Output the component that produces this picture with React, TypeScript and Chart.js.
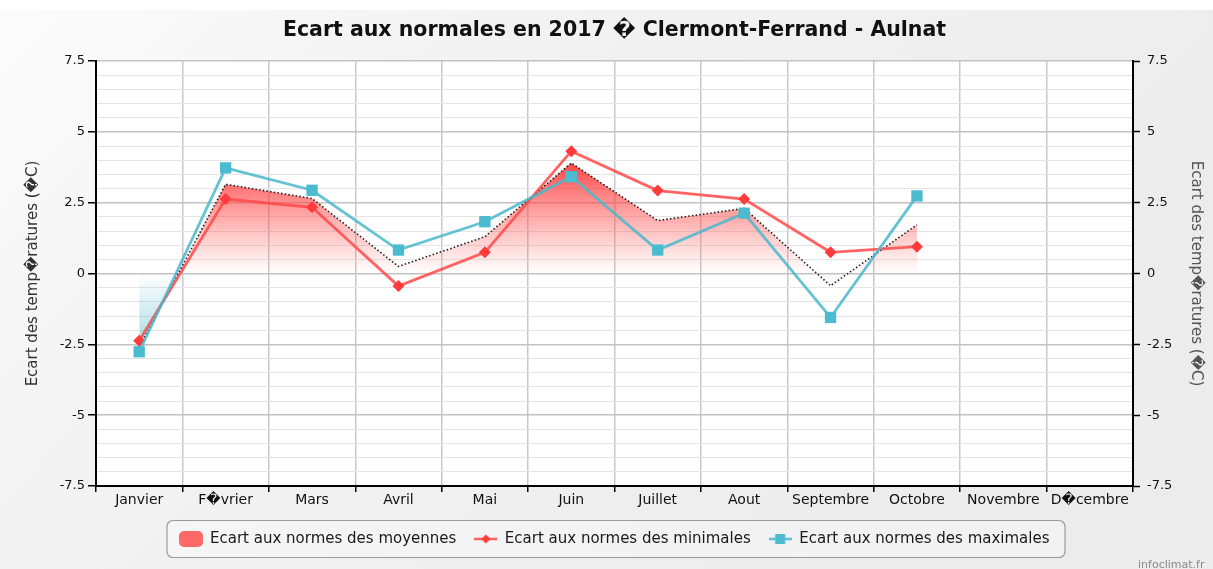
import React, { useEffect, useRef } from "react";
import { Chart, registerables } from "chart.js";

Chart.register(...registerables);

const months = [
  "Janvier", "F\uFFFDvrier", "Mars", "Avril", "Mai", "Juin",
  "Juillet", "Aout", "Septembre", "Octobre", "Novembre", "D\uFFFDcembre",
];
const meanDev = [-2.6, 3.15, 2.65, 0.25, 1.3, 3.9, 1.87, 2.3, -0.43, 1.72];
const minDev = [-2.37, 2.63, 2.34, -0.44, 0.75, 4.32, 2.93, 2.63, 0.75, 0.95];
const maxDev = [-2.76, 3.73, 2.94, 0.83, 1.83, 3.42, 0.83, 2.13, -1.55, 2.74];
const seriesNames = [
  "Ecart aux normes des moyennes",
  "Ecart aux normes des minimales",
  "Ecart aux normes des maximales",
];
const chartTitle = "Ecart aux normales en 2017 \uFFFD Clermont-Ferrand - Aulnat";
const axisTitle = "Ecart des temp\uFFFDratures (\uFFFDC)";
const creditText = "infoclimat.fr";

const FONT = "'DejaVu Sans', 'Noto Sans', sans-serif";
const RED_LINE = "rgba(255,72,72,0.85)";
const RED_PT = "#ff3b3b";
const BLUE_LINE = "rgba(72,184,204,0.85)";
const BLUE_PT = "#4bbccf";

function makeIcon(kind: string): HTMLCanvasElement {
  const c = document.createElement("canvas");
  if (kind === "area") {
    c.width = 24; c.height = 16;
    const x = c.getContext("2d")!;
    x.fillStyle = "#ff6868";
    x.beginPath();
    (x as any).roundRect(0, 0, 24, 16, 5);
    x.fill();
    return c;
  }
  c.width = 23; c.height = 14;
  const x = c.getContext("2d")!;
  x.strokeStyle = kind === "min" ? RED_LINE : BLUE_LINE;
  x.lineWidth = 2.5;
  x.beginPath(); x.moveTo(0, 7); x.lineTo(23, 7); x.stroke();
  x.fillStyle = kind === "min" ? RED_PT : BLUE_PT;
  x.beginPath();
  if (kind === "min") {
    x.moveTo(11.5, 2.5); x.lineTo(16, 7); x.lineTo(11.5, 11.5); x.lineTo(7, 7); x.closePath();
  } else {
    x.rect(6.5, 2, 10, 10);
  }
  x.fill();
  return c;
}

const isMajor = (v: number) => Math.abs(v / 2.5 - Math.round(v / 2.5)) < 1e-6;

export default function App() {
  const ref = useRef<HTMLCanvasElement | null>(null);
  useEffect(() => {
    if (!ref.current) return;
    const icons = [makeIcon("area"), makeIcon("min"), makeIcon("max")];

    const bgPlugin = {
      id: "bgPlugin",
      beforeDraw(chart: any) {
        const { ctx, width, height, chartArea } = chart;
        ctx.save();
        ctx.fillStyle = "#ffffff";
        ctx.fillRect(0, 0, width, height);
        const g = ctx.createLinearGradient(0, 0, width * 0.6, height * 1.2);
        g.addColorStop(0, "#fcfcfc");
        g.addColorStop(0.35, "#f3f3f3");
        g.addColorStop(1, "#ececec");
        ctx.fillStyle = g;
        ctx.fillRect(0, 10, width, height - 10);
        ctx.fillStyle = "#ffffff";
        ctx.fillRect(chartArea.left, chartArea.top, chartArea.right - chartArea.left, chartArea.bottom - chartArea.top);
        const lg = chart.legend;
        if (lg && lg.legendHitBoxes && lg.legendHitBoxes.length) {
          const hb = lg.legendHitBoxes;
          const first = hb[0];
          const last = hb[hb.length - 1];
          const cy = first.top + first.height / 2;
          const l = first.left - 13;
          const r = last.left + last.width + 15;
          ctx.strokeStyle = "#9a9a9a";
          ctx.lineWidth = 1.2;
          ctx.fillStyle = "rgba(255,255,255,0.3)";
          ctx.beginPath();
          ctx.roundRect(l + 0.5, cy - 18.5, r - l, 37, 6);
          ctx.fill();
          ctx.stroke();
        }
        ctx.restore();
      },
      afterDraw(chart: any) {
        const { ctx, width } = chart;
        ctx.save();
        ctx.font = `11px ${FONT}`;
        ctx.fillStyle = "#8a8a8a";
        ctx.textBaseline = "top";
        ctx.textAlign = "left";
        ctx.fillText(creditText, width - 75, 560);
        ctx.restore();
      },
    };

    const chart = new Chart(ref.current, {
      type: "line",
      data: {
        labels: months,
        datasets: [
          {
            label: seriesNames[0],
            data: meanDev,
            borderColor: "#1e1e1e",
            borderWidth: 1.6,
            borderDash: [1.5, 2.2],
            pointRadius: 0,
            pointHoverRadius: 0,
            fill: "origin",
            backgroundColor: (c: any) => {
              const ch = c.chart;
              const sc = ch.scales && ch.scales.y;
              if (!ch.chartArea || !sc) return "rgba(255,80,80,0.4)";
              const y0 = sc.getPixelForValue(4.0);
              const y1 = sc.getPixelForValue(-2.8);
              const yz = sc.getPixelForValue(0);
              const z = (yz - y0) / (y1 - y0);
              const g = ch.ctx.createLinearGradient(0, y0, 0, y1);
              g.addColorStop(0, "rgba(255,50,50,0.92)");
              g.addColorStop(z, "rgba(255,90,90,0.0)");
              g.addColorStop(Math.min(1, z + 0.0001), "rgba(80,185,205,0.0)");
              g.addColorStop(1, "rgba(80,185,205,0.55)");
              return g;
            },
            tension: 0,
            order: 3,
          },
          {
            label: seriesNames[1],
            data: minDev,
            borderColor: RED_LINE,
            borderWidth: 2.8,
            pointStyle: "rectRot",
            pointRadius: 6,
            pointBackgroundColor: RED_PT,
            pointBorderWidth: 0,
            fill: false,
            tension: 0,
            order: 2,
          },
          {
            label: seriesNames[2],
            data: maxDev,
            borderColor: BLUE_LINE,
            borderWidth: 2.8,
            pointStyle: "rect",
            pointRadius: 8,
            pointBackgroundColor: BLUE_PT,
            pointBorderWidth: 0,
            fill: false,
            tension: 0,
            order: 1,
          },
        ],
      },
      options: {
        responsive: false,
        animation: false,
        events: [],
        layout: { padding: { top: 0, bottom: 12.5, left: 16, right: 0 } },
        plugins: {
          title: {
            display: true,
            text: chartTitle,
            color: "#111111",
            font: { family: FONT, size: 20.5, weight: "bold" },
            padding: { top: 18, bottom: 18.5 },
          },
          legend: {
            position: "bottom",
            labels: {
              usePointStyle: true,
              pointStyleWidth: 23,
              padding: 18,
              color: "#1a1a1a",
              font: { family: FONT, size: 15 },
              generateLabels: (ch: any) =>
                ch.data.datasets.map((ds: any, i: number) => ({
                  text: ds.label,
                  pointStyle: icons[i],
                  fillStyle: "transparent",
                  strokeStyle: "transparent",
                  lineWidth: 0,
                  hidden: false,
                  datasetIndex: i,
                  fontColor: "#1a1a1a",
                })),
            },
          },
          tooltip: { enabled: false },
        },
        scales: {
          x: {
            type: "category",
            offset: true,
            grid: {
              offset: true,
              color: "#c8c8c8",
              lineWidth: 1.5,
              tickLength: 6,
              tickColor: "#000000",
              tickWidth: 1.5,
            },
            border: { color: "#000000", width: 2 },
            ticks: {
              color: "#111111",
              font: { family: FONT, size: 14 },
              maxRotation: 0,
              autoSkip: false,
              padding: 0,
            },
            afterFit: (s: any) => { s.height = 27.5; },
          },
          y: {
            position: "left",
            min: -7.5,
            max: 7.5,
            ticks: {
              stepSize: 0.5,
              maxTicksLimit: 100,
              autoSkip: false,
              color: "#111111",
              font: { family: FONT, size: 13 },
              padding: 3,
              callback: (v: any) => (isMajor(Number(v)) ? String(Number(v)) : ""),
            },
            grid: {
              color: (c: any) => (c.tick && isMajor(c.tick.value) ? "#c2c2c2" : "#e4e4e4"),
              lineWidth: (c: any) => (c.tick && isMajor(c.tick.value) ? 1.5 : 1),
              tickLength: 8,
              tickColor: (c: any) => (c.tick && isMajor(c.tick.value) ? "#000000" : "rgba(0,0,0,0)"),
              tickWidth: 1.5,
            },
            border: { color: "#000000", width: 2 },
            title: {
              display: true,
              text: axisTitle,
              color: "#333333",
              font: { family: FONT, size: 15 },
              padding: { top: 8, bottom: 0 },
            },
            afterFit: (s: any) => { s.width = 80; },
          },
          y2: {
            position: "right",
            min: -7.5,
            max: 7.5,
            ticks: {
              stepSize: 2.5,
              color: "#111111",
              font: { family: FONT, size: 13 },
              padding: 7,
              callback: (v: any) => String(Number(v)),
            },
            grid: {
              drawOnChartArea: false,
              tickLength: 7,
              tickColor: "#000000",
              tickWidth: 1.5,
            },
            border: { color: "#000000", width: 2 },
            title: {
              display: true,
              text: axisTitle,
              color: "#555555",
              font: { family: FONT, size: 15 },
              padding: { top: 8, bottom: 0 },
            },
            afterFit: (s: any) => { s.width = 80; },
          },
        },
      } as any,
      plugins: [bgPlugin],
    });
    return () => chart.destroy();
  }, []);

  return (
    <div style={{ position: "fixed", left: 0, top: 0, width: 1213, height: 569 }}>
      <canvas ref={ref} width={1213} height={569} style={{ display: "block" }} />
    </div>
  );
}
